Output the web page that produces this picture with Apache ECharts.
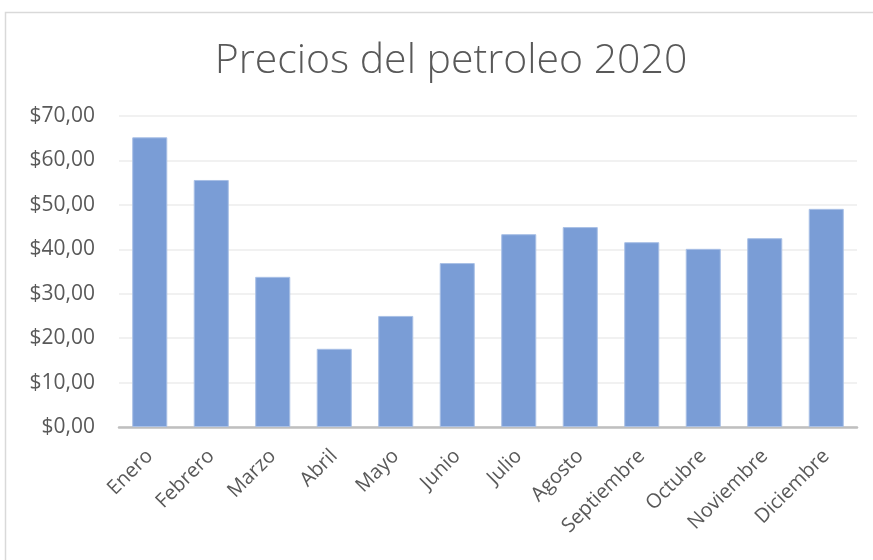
<!DOCTYPE html>
<html>
<head>
<meta charset="utf-8">
<script src="https://cdn.jsdelivr.net/npm/echarts@6/dist/echarts.min.js"></script>
<style>
html, body { margin: 0; padding: 0; background: #fff; }
#chart { width: 873px; height: 560px; }
</style>
</head>
<body>
<div id="chart"></div>
<script>
var months = ['Enero', 'Febrero', 'Marzo', 'Abril', 'Mayo', 'Junio', 'Julio',
    'Agosto', 'Septiembre', 'Octubre', 'Noviembre', 'Diciembre'];
var prices = [65.2, 55.6, 33.8, 17.6, 25.0, 36.9, 43.4, 45.0, 41.6, 40.1, 42.5, 49.1];

var chart = echarts.init(document.getElementById('chart'));

var option = {
    animation: false,
    graphic: [{
        type: 'rect',
        shape: { x: 5.5, y: 12.5, width: 900, height: 600 },
        style: { fill: 'none', stroke: '#d9d9d9', lineWidth: 1.5 },
        silent: true
    }],
    title: {
        text: 'Precios del petroleo 2020',
        left: 446,
        top: 36,
        textAlign: 'center',
        textStyle: {
            fontFamily: 'Open Sans',
            fontWeight: 300,
            fontSize: 41,
            color: '#595959'
        }
    },
    grid: {
        left: 119,
        right: 16,
        top: 116,
        bottom: 133,
        containLabel: false
    },
    xAxis: {
        type: 'category',
        data: months,
        axisTick: { show: false },
        axisLine: { lineStyle: { color: '#bfbfbf', width: 2.5 } },
        axisLabel: {
            rotate: 45,
            margin: 26,
            fontFamily: 'Open Sans',
            fontSize: 20,
            color: '#595959'
        }
    },
    yAxis: {
        type: 'value',
        min: 0,
        max: 70,
        interval: 10,
        axisLine: { show: false },
        axisTick: { show: false },
        splitLine: { lineStyle: { color: '#ececec', width: 1.5 } },
        axisLabel: {
            margin: 24,
            fontFamily: 'Open Sans',
            fontSize: 21,
            color: '#595959',
            formatter: function (v) { return '$' + v.toFixed(2).replace('.', ','); }
        }
    },
    series: [{
        type: 'bar',
        data: prices,
        barWidth: '57%',
        itemStyle: {
            color: '#7a9dd6',
            borderColor: '#a9c0e6',
            borderWidth: 1
        }
    }]
};

chart.setOption(option);
</script>
</body>
</html>
